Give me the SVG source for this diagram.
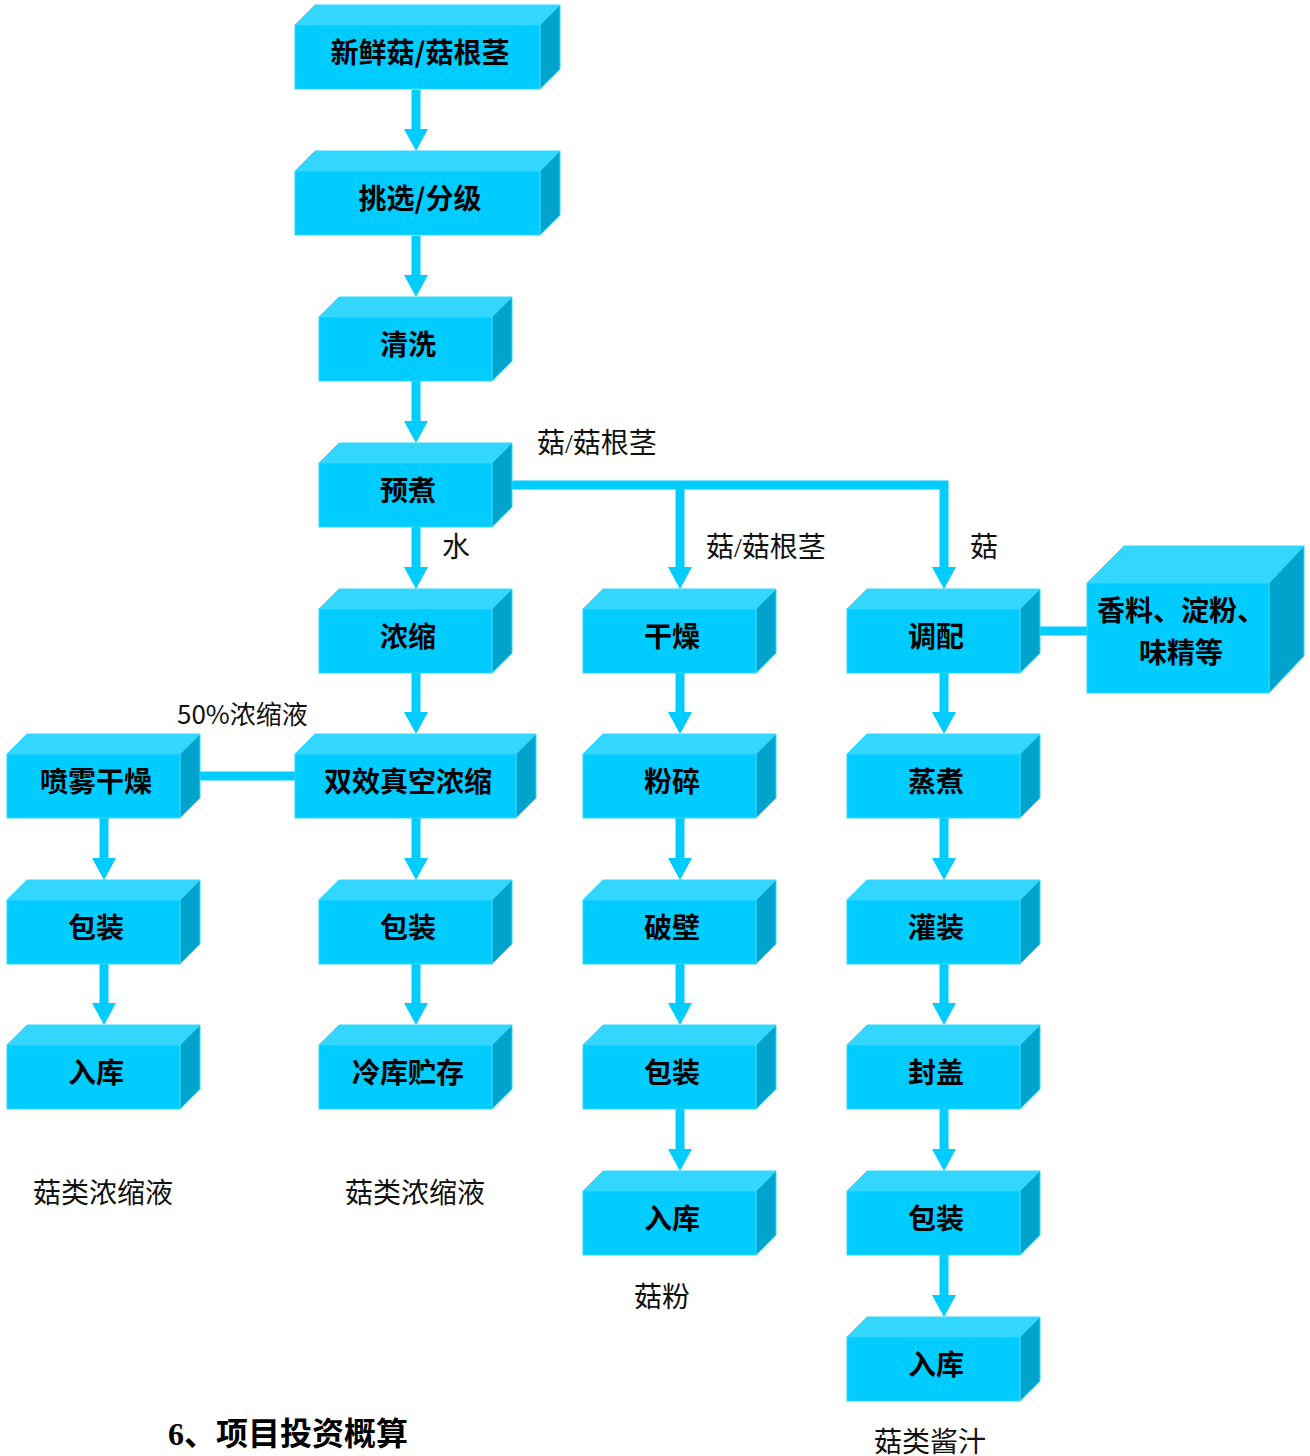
<svg xmlns="http://www.w3.org/2000/svg" width="1310" height="1456" viewBox="0 0 1310 1456">
<style>
.front{fill:#00CCFF;stroke:#33D6FF;stroke-width:1}
.top{fill:#33D6FF;stroke:#33D6FF;stroke-width:1}
.side{fill:#00A3CC;stroke:#33D6FF;stroke-width:1}
.bt{font-family:"Noto Sans CJK SC","Liberation Sans",sans-serif;font-weight:bold;font-size:28px;fill:#000;text-anchor:middle}
.lbl{font-family:"Liberation Serif","Noto Sans CJK SC",serif;font-size:28px;fill:#111}
.lbls{font-family:"Noto Sans CJK SC","Liberation Sans",sans-serif;font-size:26px;fill:#111}
.ttl{font-family:"Liberation Serif","Noto Sans CJK SC",serif;font-size:32px;font-weight:bold;fill:#000}
.conn{fill:none;stroke:#00CCFF;stroke-width:9}
</style>
<defs>
<marker id="ah" markerUnits="userSpaceOnUse" markerWidth="22" markerHeight="24" refX="0" refY="12" orient="auto" overflow="visible">
<path d="M0,0 L22,12 L0,24 z" fill="#00CCFF"/>
</marker>
</defs>
<g id="connectors">
<path class="conn" d="M416,90 V129" marker-end="url(#ah)"/>
<path class="conn" d="M416,236 V275" marker-end="url(#ah)"/>
<path class="conn" d="M416,381 V421" marker-end="url(#ah)"/>
<path class="conn" d="M416,527 V567" marker-end="url(#ah)"/>
<path class="conn" d="M416,672 V712" marker-end="url(#ah)"/>
<path class="conn" d="M416,818 V858" marker-end="url(#ah)"/>
<path class="conn" d="M416,964 V1003" marker-end="url(#ah)"/>
<path class="conn" d="M104,818 V858" marker-end="url(#ah)"/>
<path class="conn" d="M104,964 V1003" marker-end="url(#ah)"/>
<path class="conn" d="M200,776 H295"/>
<path class="conn" d="M512,485 H944 V567" marker-end="url(#ah)"/>
<path class="conn" d="M680,485 V567" marker-end="url(#ah)"/>
<path class="conn" d="M680,672 V712" marker-end="url(#ah)"/>
<path class="conn" d="M680,818 V858" marker-end="url(#ah)"/>
<path class="conn" d="M680,964 V1003" marker-end="url(#ah)"/>
<path class="conn" d="M680,1109 V1149" marker-end="url(#ah)"/>
<path class="conn" d="M944,672 V712" marker-end="url(#ah)"/>
<path class="conn" d="M944,818 V858" marker-end="url(#ah)"/>
<path class="conn" d="M944,964 V1003" marker-end="url(#ah)"/>
<path class="conn" d="M944,1109 V1149" marker-end="url(#ah)"/>
<path class="conn" d="M944,1255 V1295" marker-end="url(#ah)"/>
<path class="conn" d="M1040,631 H1087"/>
</g>
<g id="n1"><polygon class="top" points="295,25 315,5 560,5 540,25"/><polygon class="side" points="540,25 560,5 560,69 540,89"/><rect class="front" x="295" y="25" width="245" height="64"/><text class="bt" x="420" y="63">新鲜菇/菇根茎</text></g>
<g id="n2"><polygon class="top" points="295,171 315,151 560,151 540,171"/><polygon class="side" points="540,171 560,151 560,215 540,235"/><rect class="front" x="295" y="171" width="245" height="64"/><text class="bt" x="420" y="209">挑选/分级</text></g>
<g id="n3"><polygon class="top" points="319,317 339,297 512,297 492,317"/><polygon class="side" points="492,317 512,297 512,361 492,381"/><rect class="front" x="319" y="317" width="173" height="64"/><text class="bt" x="408" y="355">清洗</text></g>
<g id="n4"><polygon class="top" points="319,463 339,443 512,443 492,463"/><polygon class="side" points="492,463 512,443 512,507 492,527"/><rect class="front" x="319" y="463" width="173" height="64"/><text class="bt" x="408" y="501">预煮</text></g>
<g id="n5"><polygon class="top" points="319,609 339,589 512,589 492,609"/><polygon class="side" points="492,609 512,589 512,653 492,673"/><rect class="front" x="319" y="609" width="173" height="64"/><text class="bt" x="408" y="647">浓缩</text></g>
<g id="n6"><polygon class="top" points="295,754 315,734 536,734 516,754"/><polygon class="side" points="516,754 536,734 536,798 516,818"/><rect class="front" x="295" y="754" width="221" height="64"/><text class="bt" x="408" y="792">双效真空浓缩</text></g>
<g id="n7"><polygon class="top" points="319,900 339,880 512,880 492,900"/><polygon class="side" points="492,900 512,880 512,944 492,964"/><rect class="front" x="319" y="900" width="173" height="64"/><text class="bt" x="408" y="938">包装</text></g>
<g id="n8"><polygon class="top" points="319,1045 339,1025 512,1025 492,1045"/><polygon class="side" points="492,1045 512,1025 512,1089 492,1109"/><rect class="front" x="319" y="1045" width="173" height="64"/><text class="bt" x="408" y="1083">冷库贮存</text></g>
<g id="n9"><polygon class="top" points="7,754 27,734 200,734 180,754"/><polygon class="side" points="180,754 200,734 200,798 180,818"/><rect class="front" x="7" y="754" width="173" height="64"/><text class="bt" x="96" y="792">喷雾干燥</text></g>
<g id="n10"><polygon class="top" points="7,900 27,880 200,880 180,900"/><polygon class="side" points="180,900 200,880 200,944 180,964"/><rect class="front" x="7" y="900" width="173" height="64"/><text class="bt" x="96" y="938">包装</text></g>
<g id="n11"><polygon class="top" points="7,1045 27,1025 200,1025 180,1045"/><polygon class="side" points="180,1045 200,1025 200,1089 180,1109"/><rect class="front" x="7" y="1045" width="173" height="64"/><text class="bt" x="96" y="1083">入库</text></g>
<g id="n12"><polygon class="top" points="583,609 603,589 776,589 756,609"/><polygon class="side" points="756,609 776,589 776,653 756,673"/><rect class="front" x="583" y="609" width="173" height="64"/><text class="bt" x="672" y="647">干燥</text></g>
<g id="n13"><polygon class="top" points="583,754 603,734 776,734 756,754"/><polygon class="side" points="756,754 776,734 776,798 756,818"/><rect class="front" x="583" y="754" width="173" height="64"/><text class="bt" x="672" y="792">粉碎</text></g>
<g id="n14"><polygon class="top" points="583,900 603,880 776,880 756,900"/><polygon class="side" points="756,900 776,880 776,944 756,964"/><rect class="front" x="583" y="900" width="173" height="64"/><text class="bt" x="672" y="938">破壁</text></g>
<g id="n15"><polygon class="top" points="583,1045 603,1025 776,1025 756,1045"/><polygon class="side" points="756,1045 776,1025 776,1089 756,1109"/><rect class="front" x="583" y="1045" width="173" height="64"/><text class="bt" x="672" y="1083">包装</text></g>
<g id="n16"><polygon class="top" points="583,1191 603,1171 776,1171 756,1191"/><polygon class="side" points="756,1191 776,1171 776,1235 756,1255"/><rect class="front" x="583" y="1191" width="173" height="64"/><text class="bt" x="672" y="1229">入库</text></g>
<g id="n17"><polygon class="top" points="847,609 867,589 1040,589 1020,609"/><polygon class="side" points="1020,609 1040,589 1040,653 1020,673"/><rect class="front" x="847" y="609" width="173" height="64"/><text class="bt" x="936" y="647">调配</text></g>
<g id="n18"><polygon class="top" points="847,754 867,734 1040,734 1020,754"/><polygon class="side" points="1020,754 1040,734 1040,798 1020,818"/><rect class="front" x="847" y="754" width="173" height="64"/><text class="bt" x="936" y="792">蒸煮</text></g>
<g id="n19"><polygon class="top" points="847,900 867,880 1040,880 1020,900"/><polygon class="side" points="1020,900 1040,880 1040,944 1020,964"/><rect class="front" x="847" y="900" width="173" height="64"/><text class="bt" x="936" y="938">灌装</text></g>
<g id="n20"><polygon class="top" points="847,1045 867,1025 1040,1025 1020,1045"/><polygon class="side" points="1020,1045 1040,1025 1040,1089 1020,1109"/><rect class="front" x="847" y="1045" width="173" height="64"/><text class="bt" x="936" y="1083">封盖</text></g>
<g id="n21"><polygon class="top" points="847,1191 867,1171 1040,1171 1020,1191"/><polygon class="side" points="1020,1191 1040,1171 1040,1235 1020,1255"/><rect class="front" x="847" y="1191" width="173" height="64"/><text class="bt" x="936" y="1229">包装</text></g>
<g id="n22"><polygon class="top" points="847,1337 867,1317 1040,1317 1020,1337"/><polygon class="side" points="1020,1337 1040,1317 1040,1381 1020,1401"/><rect class="front" x="847" y="1337" width="173" height="64"/><text class="bt" x="936" y="1375">入库</text></g>
<g id="n23"><polygon class="top" points="1087,583 1124,546 1304,546 1269,583"/><polygon class="side" points="1269,583 1304,546 1304,656 1269,693"/><rect class="front" x="1087" y="583" width="182" height="110"/><text class="bt" x="1181" y="621">香料、淀粉、</text><text class="bt" x="1181" y="663">味精等</text></g>
<g id="labels">
<text class="lbl" x="537" y="453">菇/菇根茎</text>
<text class="lbl" x="442" y="557">水</text>
<text class="lbl" x="706" y="557">菇/菇根茎</text>
<text class="lbl" x="970" y="557">菇</text>
<text class="lbls" x="177" y="724">50%浓缩液</text>
<text class="lbl" x="33" y="1203">菇类浓缩液</text>
<text class="lbl" x="345" y="1203">菇类浓缩液</text>
<text class="lbl" x="634" y="1307">菇粉</text>
<text class="lbl" x="874" y="1452">菇类酱汁</text>
<text class="ttl" x="168" y="1445">6、项目投资概算</text>
</g>
</svg>
